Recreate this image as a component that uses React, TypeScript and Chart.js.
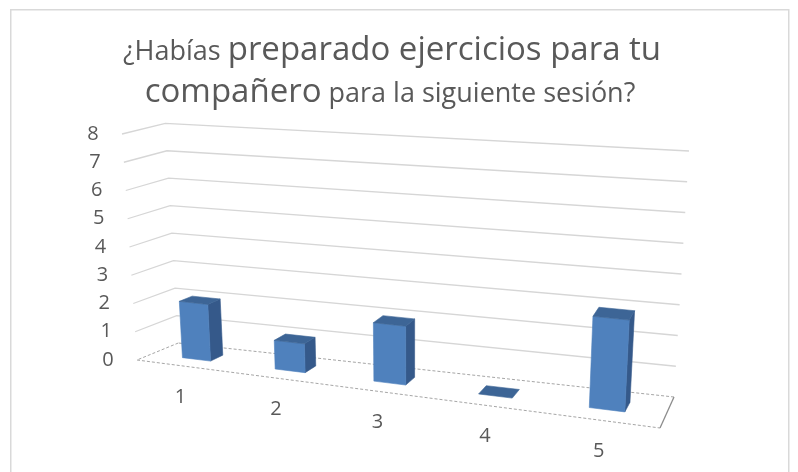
import { useEffect, useRef } from "react";
import { Chart, registerables } from "chart.js";

Chart.register(...registerables);

// Survey answers per session
const categories = ["1", "2", "3", "4", "5"];
const answers = [2, 1, 2, 0, 3];
const yTicks = [0, 1, 2, 3, 4, 5, 6, 7, 8];
const yMax = 8;

const titleLine1 = [
  { text: "¿Habías ", big: false },
  { text: "preparado ejercicios para tu", big: true },
];
const titleLine2 = [
  { text: "compañero", big: true },
  { text: " para la siguiente sesión?", big: false },
];

const FONT = '"Open Sans", "Noto Sans", sans-serif';
const TEXT = "#595959";
const GRID = "#d6d6d6";
const FRONT = "#4f81bd";
const SIDE = "#35598a";
const TOP = "#3d6596";

// Depth range of the bars inside the floor (0 = front edge, 1 = back wall)
const BAR_W0 = 0.36;
const BAR_W1 = 0.68;

type Pt = [number, number];

// Corners of the 3D box, expressed as offsets from the chart area.
// f = front, b = back, l = left, r = right; 0 = floor level, 1 = top value.
function boxCorners(ca: { left: number; right: number; top: number; bottom: number }) {
  const L = ca.left, R = ca.right, T = ca.top, B = ca.bottom;
  return {
    fl0: [L, B] as Pt,
    fr0: [R, B + 68] as Pt,
    bl0: [L + 41.3, B - 17] as Pt,
    br0: [R + 14, B + 37] as Pt,
    fl1: [L - 15, T] as Pt,
    fr1: [R + 13.3, T + 47] as Pt,
    bl1: [L + 28.3, T - 10.7] as Pt,
    br1: [R + 29, T + 17] as Pt,
  };
}

function lerp(a: Pt, b: Pt, s: number): Pt {
  return [a[0] + (b[0] - a[0]) * s, a[1] + (b[1] - a[1]) * s];
}

// u: 0..1 along the category axis, t: 0..1 of the value axis, w: 0..1 depth
function project(c: ReturnType<typeof boxCorners>, u: number, t: number, w: number): Pt {
  const uu = u * (0.854 + 0.146 * u); // mild perspective along the floor
  const bot = lerp(lerp(c.fl0, c.fr0, uu), lerp(c.bl0, c.br0, uu), w);
  const top = lerp(lerp(c.fl1, c.fr1, uu), lerp(c.bl1, c.br1, uu), w);
  return lerp(bot, top, t);
}

function poly(ctx: CanvasRenderingContext2D, pts: Pt[], fill: string) {
  ctx.beginPath();
  ctx.moveTo(pts[0][0], pts[0][1]);
  for (let i = 1; i < pts.length; i++) ctx.lineTo(pts[i][0], pts[i][1]);
  ctx.closePath();
  ctx.fillStyle = fill;
  ctx.fill();
  ctx.strokeStyle = fill;
  ctx.lineWidth = 0.6;
  ctx.stroke();
}

function line(ctx: CanvasRenderingContext2D, a: Pt, b: Pt) {
  ctx.beginPath();
  ctx.moveTo(a[0], a[1]);
  ctx.lineTo(b[0], b[1]);
  ctx.stroke();
}

const box3d = {
  id: "box3d",
  beforeDraw(chart: Chart) {
    const ctx = chart.ctx;
    ctx.save();
    ctx.fillStyle = "#ffffff";
    ctx.fillRect(0, 0, chart.width, chart.height);
    ctx.strokeStyle = "#d9d9d9";
    ctx.lineWidth = 1.5;
    ctx.strokeRect(10.75, 9.75, 778, 480);
    ctx.restore();
  },
  afterDraw(chart: Chart) {
    const ctx = chart.ctx;
    const ca = chart.chartArea;
    const c = boxCorners(ca);
    const yScale = chart.scales.y;
    const xScale = chart.scales.x;
    const tOf = (v: number) => (ca.bottom - yScale.getPixelForValue(v)) / ca.height;
    const uOf = (px: number) => (px - ca.left) / ca.width;

    ctx.save();

    // wall gridlines
    ctx.strokeStyle = GRID;
    ctx.lineWidth = 1.3;
    yTicks.forEach((v) => {
      if (v === 0) return;
      const t = tOf(v);
      const a = project(c, 0, t, 0);
      const b = project(c, 0, t, 1);
      const d = project(c, 1, t, 1);
      ctx.beginPath();
      ctx.moveTo(a[0], a[1]);
      ctx.lineTo(b[0], b[1]);
      ctx.lineTo(d[0], d[1]);
      ctx.stroke();
    });

    // floor
    const f0 = project(c, 0, 0, 0);
    const f1 = project(c, 1, 0, 0);
    const f2 = project(c, 1, 0, 1);
    const f3 = project(c, 0, 0, 1);
    ctx.lineWidth = 1;
    ctx.strokeStyle = "#a6a6a6";
    ctx.setLineDash([3, 2]);
    line(ctx, f0, f1);
    line(ctx, f2, f3);
    line(ctx, f3, f0);
    ctx.setLineDash([]);
    ctx.strokeStyle = "#8c8c8c";
    ctx.lineWidth = 1.3;
    line(ctx, f1, f2);

    // bars
    const meta = chart.getDatasetMeta(0);
    meta.data.forEach((el: any) => {
      const p = el.getProps(["x", "y", "base", "width"], true);
      const u0 = uOf(p.x - p.width / 2);
      const u1 = uOf(p.x + p.width / 2);
      const t0 = (ca.bottom - p.base) / ca.height;
      const t1 = (ca.bottom - p.y) / ca.height;
      const P = (u: number, t: number, w: number) => project(c, u, t, w);
      if (t1 - t0 > 0.001) {
        poly(ctx, [P(u1, t0, BAR_W0), P(u1, t0, BAR_W1), P(u1, t1, BAR_W1), P(u1, t1, BAR_W0)], SIDE);
        poly(ctx, [P(u0, t0, BAR_W0), P(u1, t0, BAR_W0), P(u1, t1, BAR_W0), P(u0, t1, BAR_W0)], FRONT);
      }
      poly(ctx, [P(u0, t1, BAR_W0), P(u1, t1, BAR_W0), P(u1, t1, BAR_W1), P(u0, t1, BAR_W1)], TOP);
    });

    // value axis labels
    ctx.fillStyle = TEXT;
    ctx.font = `20px ${FONT}`;
    ctx.textAlign = "center";
    ctx.textBaseline = "middle";
    yTicks.forEach((v) => {
      const a = project(c, 0, tOf(v), 0);
      ctx.fillText(String(v), a[0] - 29, a[1]);
    });

    // category labels along the front edge of the floor
    categories.forEach((label, i) => {
      const u = uOf(xScale.getPixelForValue(i));
      const a = project(c, u, 0, 0);
      ctx.fillText(label, a[0] - 2, a[1] + 31);
    });

    // title with mixed sizes
    const drawLine = (segs: { text: string; big: boolean }[], cx: number, baseline: number) => {
      const fontOf = (big: boolean) => `${big ? 33 : 27}px ${FONT}`;
      let total = 0;
      const widths = segs.map((s) => {
        ctx.font = fontOf(s.big);
        const w = ctx.measureText(s.text).width;
        total += w;
        return w;
      });
      let x = cx - total / 2;
      ctx.textAlign = "left";
      ctx.textBaseline = "alphabetic";
      segs.forEach((s, i) => {
        ctx.font = fontOf(s.big);
        ctx.fillText(s.text, x, baseline);
        x += widths[i];
      });
    };
    drawLine(titleLine1, 392, 60);
    drawLine(titleLine2, 390, 102);

    ctx.restore();
  },
};

export default function App() {
  const ref = useRef<HTMLCanvasElement>(null);

  useEffect(() => {
    if (!ref.current) return;
    const chart = new Chart(ref.current, {
      type: "bar",
      data: {
        labels: categories,
        datasets: [
          {
            data: answers,
            backgroundColor: "rgba(0,0,0,0)",
            borderWidth: 0,
            barPercentage: 0.31,
            categoryPercentage: 1,
          },
        ],
      },
      options: {
        responsive: false,
        animation: false,
        devicePixelRatio: 1,
        events: [],
        layout: { padding: { left: 137, top: 134, right: 138, bottom: 112 } },
        plugins: {
          legend: { display: false },
          title: { display: false },
          tooltip: { enabled: false },
        },
        scales: {
          x: { display: false },
          y: { display: false, min: 0, max: yMax },
        },
      },
      plugins: [box3d],
    });
    return () => chart.destroy();
  }, []);

  return (
    <div style={{ position: "fixed", left: 0, top: 0, width: 798, height: 472, background: "#fff" }}>
      <canvas ref={ref} width={798} height={472} style={{ display: "block", width: 798, height: 472 }} />
    </div>
  );
}
